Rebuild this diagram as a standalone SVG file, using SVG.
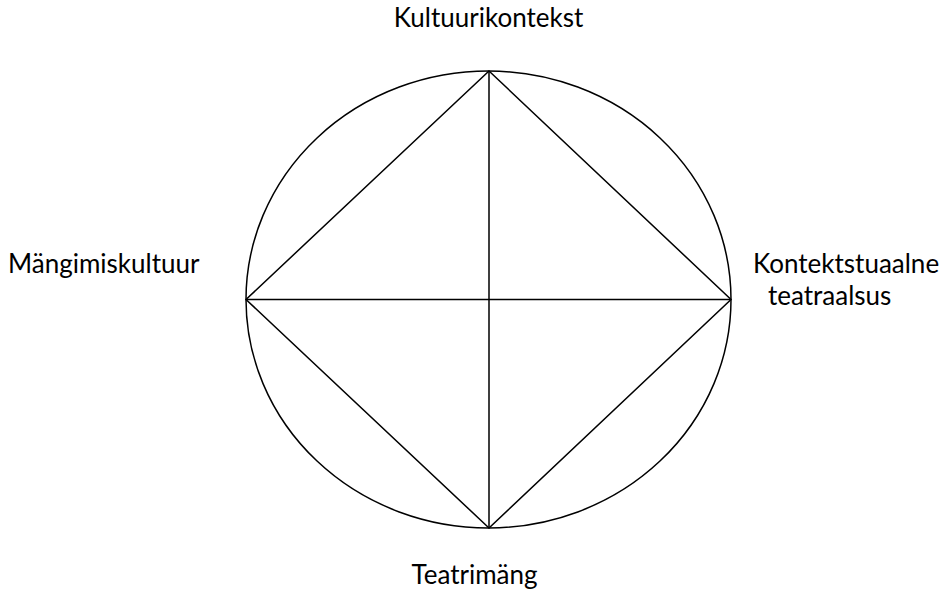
<svg xmlns="http://www.w3.org/2000/svg" width="949" height="595" viewBox="0 0 949 595">
<style>
.lbl{font-family:Lato,"Open Sans","Liberation Sans",sans-serif;font-size:26px;fill:#000}
.ln{stroke:#000;stroke-width:1.5;fill:none}
</style>
<rect width="949" height="595" fill="#fff"/>
<g id="circle"><ellipse class="ln" cx="488.5" cy="299.5" rx="242.5" ry="228.5"/></g>
<g id="connectors">
<path class="ln" d="M489 71 L731 299.5 L489 528 L246 299.5 Z"/>
<path class="ln" d="M489 71 L489 528 M246 299.5 L731 299.5"/>
</g>
<g id="top"><text class="lbl" x="488.5" y="27" text-anchor="middle">Kultuurikontekst</text></g>
<g id="left"><text class="lbl" x="8" y="273">Mängimiskultuur</text></g>
<g id="right"><text class="lbl" x="753" y="273">Kontektstuaalne</text><text class="lbl" x="768" y="305">teatraalsus</text></g>
<g id="bottom"><text class="lbl" x="474.5" y="584" text-anchor="middle">Teatrimäng</text></g>
</svg>
